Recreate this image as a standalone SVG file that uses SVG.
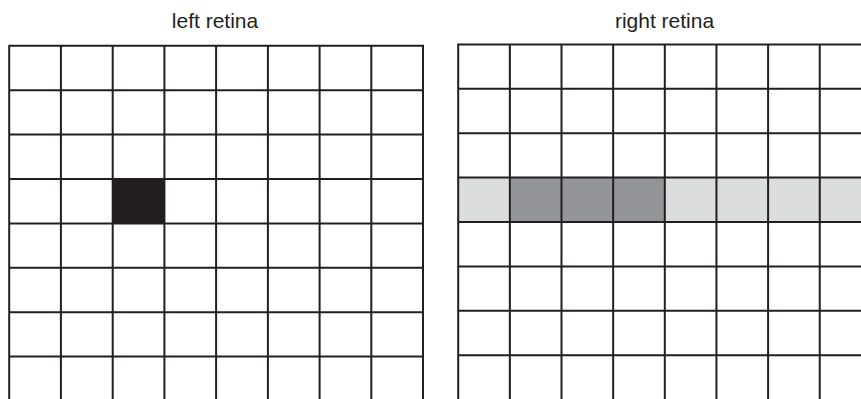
<svg xmlns="http://www.w3.org/2000/svg" width="861" height="399" viewBox="0 0 861 399">
<style>
.lbl{font-family:"Liberation Sans",Arial,sans-serif;font-size:21px;fill:#231f20;text-anchor:middle}
.g{stroke:#231f20;stroke-width:2;fill:none}
.blk{fill:#231f20}
.dk{fill:#939598}
.lt{fill:#dcdddf}
</style>
<rect width="861" height="399" fill="#ffffff"/>
<g id="left-retina">
<text class="lbl" x="215" y="28.3">left retina</text>
<rect class="blk" x="112.7" y="179" width="51.7" height="44.4"/>
<path class="g" d="M9.2 45.8V402M60.9 45.8V402M112.7 45.8V402M164.4 45.8V402M216.1 45.8V402M267.9 45.8V402M319.6 45.8V402M371.3 45.8V402M423 45.8V402M8.2 45.8H424M8.2 90.2H424M8.2 134.6H424M8.2 179H424M8.2 223.4H424M8.2 267.8H424M8.2 312.2H424M8.2 356.6H424"/>
</g>
<g id="right-retina">
<text class="lbl" x="664.5" y="28.3">right retina</text>
<rect class="lt" x="458.2" y="177.6" width="405" height="44.4"/>
<rect class="dk" x="509.85" y="177.6" width="154.95" height="44.4"/>
<path class="g" d="M458.2 44.4V402M509.85 44.4V402M561.5 44.4V402M613.15 44.4V402M664.8 44.4V402M716.45 44.4V402M768.1 44.4V402M819.75 44.4V402M457.2 44.4H863M457.2 88.8H863M457.2 133.2H863M457.2 177.6H863M457.2 222H863M457.2 266.4H863M457.2 310.8H863M457.2 355.2H863"/>
</g>
</svg>
